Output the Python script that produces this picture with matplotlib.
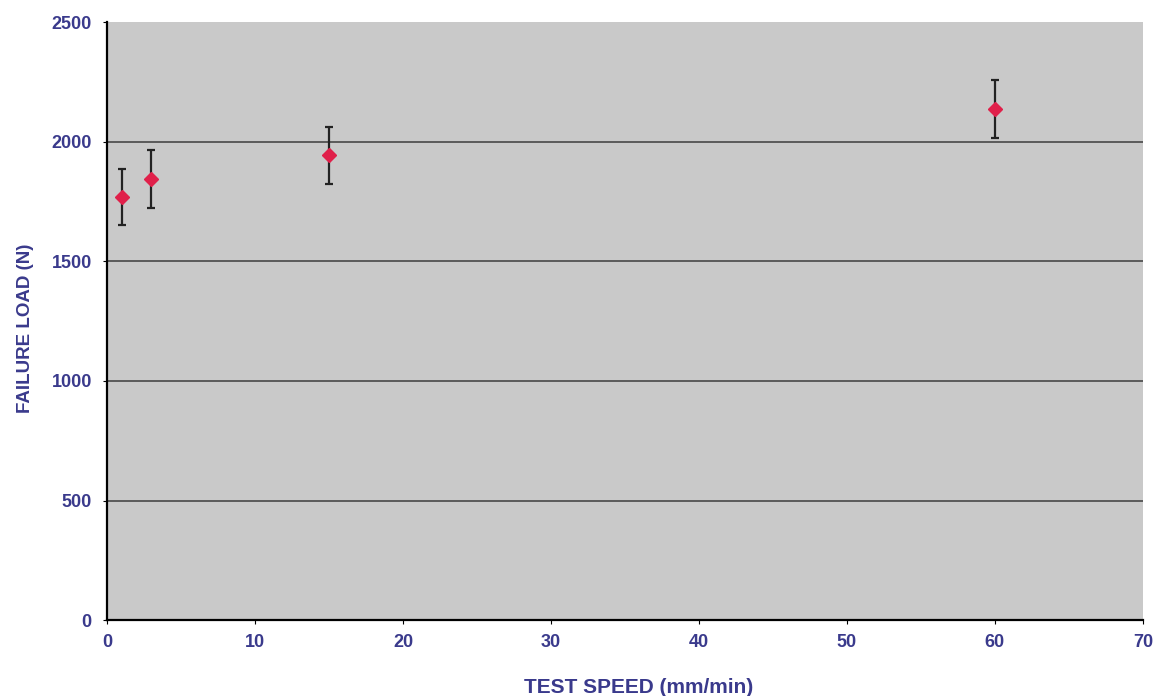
import matplotlib
matplotlib.use("Agg")
from matplotlib import pyplot as plt

# данные
speed = [1, 3, 15, 60]
load = [1768, 1844, 1944, 2136]
load_err = [117, 121, 119, 122]

x_ticks = [0, 10, 20, 30, 40, 50, 60, 70]
y_ticks = [0, 500, 1000, 1500, 2000, 2500]

text_color = "#3a3a8c"

fig = plt.figure(figsize=(11.56, 6.96), dpi=100)
ax = fig.add_axes([0.0926, 0.109, 0.896, 0.859])
ax.set_facecolor("#c9c9c9")

for y in y_ticks[1:-1]:
    ax.axhline(y, color="#5a5a5a", lw=1.4, zorder=1)

ax.errorbar(speed, load, yerr=load_err, fmt="D", color="#e0204a",
            markersize=7.5, ecolor="#222222", elinewidth=1.6, capsize=3,
            capthick=1.6, zorder=3)

ax.set_xlim(0, 70)
ax.set_ylim(0, 2500)
ax.set_xticks(x_ticks)
ax.set_yticks(y_ticks)

for side in ["top", "right"]:
    ax.spines[side].set_visible(False)
ax.spines["left"].set_color("black")
ax.spines["left"].set_linewidth(1.6)
ax.spines["bottom"].set_color("black")
ax.spines["bottom"].set_linewidth(1.6)

ax.tick_params(axis="both", colors="black", labelcolor=text_color,
               labelsize=13, length=3)
ax.tick_params(axis="x", pad=7)
ax.tick_params(axis="y", pad=8)
for lab in ax.get_xticklabels() + ax.get_yticklabels():
    lab.set_fontweight("bold")
    lab.set_family("Liberation Sans")

ax.set_xlabel("TEST SPEED (mm/min)", color=text_color, fontsize=15,
              fontweight="bold", family="Liberation Sans")
ax.set_ylabel("FAILURE LOAD (N)", color=text_color, fontsize=13.5,
              fontweight="bold", family="Liberation Sans")
ax.xaxis.set_label_coords(0.513, -0.113)
ax.xaxis.label.set_va("center")
ax.yaxis.set_label_coords(-0.079, 0.488)
ax.yaxis.label.set_va("center")

fig.savefig("out.png", dpi=100)
